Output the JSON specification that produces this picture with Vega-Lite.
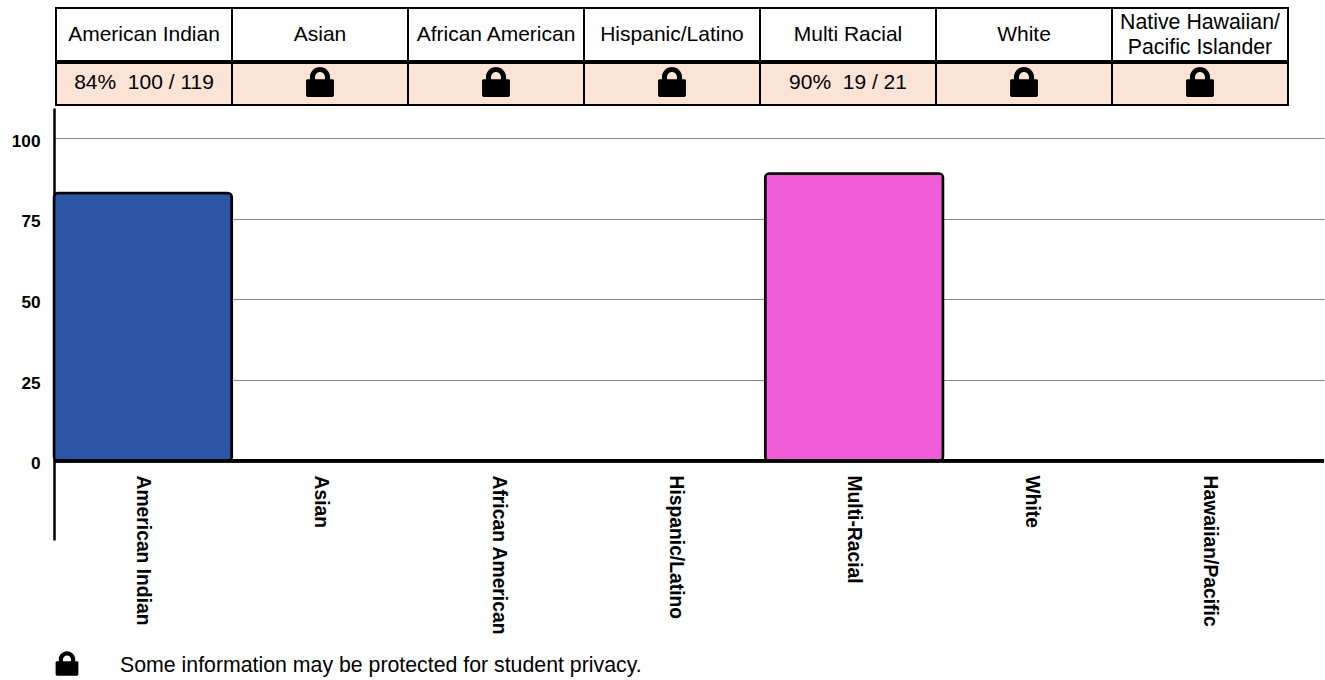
{
"$schema":"https://vega.github.io/schema/vega-lite/v6.json",
"background":"white",
"padding":{"left":11,"top":7,"right":0,"bottom":0},
"config":{"view":{"stroke":null},"font":"Liberation Sans"},
"datasets":{
"table":[
{"cat":"American Indian","header":"American Indian","value":"84%\u00a0 100 / 119","locked":false,"lines":1},
{"cat":"Asian","header":"Asian","value":"","locked":true,"lines":1},
{"cat":"African American","header":"African American","value":"","locked":true,"lines":1},
{"cat":"Hispanic/Latino","header":"Hispanic/Latino","value":"","locked":true,"lines":1},
{"cat":"Multi Racial","header":"Multi Racial","value":"90%\u00a0 19 / 21","locked":false,"lines":1},
{"cat":"White","header":"White","value":"","locked":true,"lines":1},
{"cat":"Native Hawaiian/Pacific Islander","header":"Native Hawaiian/\nPacific Islander","value":"","locked":true,"lines":2}
],
"bars":[
{"group":"American Indian","pct":83},
{"group":"Asian","pct":0},
{"group":"African American","pct":0},
{"group":"Hispanic/Latino","pct":0},
{"group":"Multi-Racial","pct":89},
{"group":"White","pct":0},
{"group":"Hawaiian/Pacific","pct":0}
]
},
"spacing":2,
"vconcat":[
{
"spacing":0,
"vconcat":[
{
"width":1270,"height":53,
"data":{"name":"table"},
"layer":[
{"mark":{"type":"rect","fill":"white","stroke":"black","strokeWidth":2},
"encoding":{"x":{"field":"cat","type":"nominal","sort":null,"axis":null,"scale":{"type":"band","paddingInner":0,"paddingOuter":0,"range":[2,1234]}}}},
{"transform":[{"filter":"datum.lines===1"}],
"mark":{"type":"text","fontSize":21,"color":"black"},
"encoding":{"x":{"field":"cat","type":"nominal","sort":null},"text":{"field":"header"}}},
{"transform":[{"filter":"datum.lines===2"}],
"mark":{"type":"text","fontSize":21.3,"lineBreak":"\n","lineHeight":25,"color":"black","yOffset":-12},
"encoding":{"x":{"field":"cat","type":"nominal","sort":null},"text":{"field":"header"}}}
]
},
{
"width":1270,"height":42,
"data":{"name":"table"},
"layer":[
{"mark":{"type":"rect","fill":"#FBE4D5","stroke":"black","strokeWidth":2},
"encoding":{"x":{"field":"cat","type":"nominal","sort":null,"axis":null,"scale":{"type":"band","paddingInner":0,"paddingOuter":0,"range":[2,1234]}}}},
{"mark":{"type":"text","fontSize":21,"color":"black","yOffset":-1},
"encoding":{"x":{"field":"cat","type":"nominal","sort":null},"text":{"field":"value"}}},
{"transform":[{"filter":"datum.locked"}],
"mark":{"type":"point","filled":true,"fill":"black","opacity":1,"size":900,"strokeWidth":0,"yOffset":-2,
"shape":"M-0.93,-0.1 Q-0.93,-0.18 -0.8,-0.18 L-0.67,-0.18 L-0.67,-0.33 A0.67,0.67 0 0 1 0.67,-0.33 L0.67,-0.18 L0.8,-0.18 Q0.93,-0.18 0.93,-0.1 L0.93,0.88 Q0.93,1 0.8,1 L-0.8,1 Q-0.93,1 -0.93,0.88 Z M-0.33,-0.18 L0.33,-0.18 L0.33,-0.33 A0.33,0.33 0 0 0 -0.33,-0.33 Z"},
"encoding":{"x":{"field":"cat","type":"nominal","sort":null}}}
]
}
]
},
{
"width":1270,"height":432,
"data":{"name":"bars"},
"layer":[
{"mark":{"type":"bar","cornerRadius":4,"stroke":"black","strokeWidth":2.5},
"encoding":{
"x":{"field":"group","type":"nominal","sort":null,"title":null,
"scale":{"type":"band","paddingInner":0,"paddingOuter":0.0714,"align":0},
"axis":{"domain":false,"ticks":false,"grid":false,"offset":-79,"labelAngle":90,"labelAlign":"left","labelBaseline":"middle","labelPadding":14,"labelFont":"Liberation Sans","labelFontWeight":"bold","labelFontSize":19.3,"labelColor":"black","labelOverlap":false,"labelLimit":0}},
"y":{"field":"pct","type":"quantitative","title":null,
"scale":{"domain":[-24.5,109.3],"nice":false,"zero":false},
"axis":{"values":[0,25,50,75,100],"domainColor":"black","domainWidth":2.5,"ticks":false,"grid":true,"gridColor":"#8a8a8a","gridWidth":1,"labelPadding":14,"labelOffset":3,"labelFont":"Liberation Sans","labelFontWeight":"bold","labelFontSize":17.2,"labelColor":"black"}},
"fill":{"field":"group","type":"nominal","legend":null,
"scale":{"domain":["American Indian","Asian","African American","Hispanic/Latino","Multi-Racial","White","Hawaiian/Pacific"],"range":["#2D55A5","#2D55A5","#2D55A5","#2D55A5","#F15CD9","#2D55A5","#2D55A5"]}}
}},
{"mark":{"type":"rule","color":"black","strokeWidth":2.8},
"encoding":{"y":{"datum":0}}}
]
},
{
"width":1270,"height":45,
"data":{"values":[{"item":"icon"},{"item":"note","note":"Some information may be protected for student privacy."}]},
"layer":[
{"transform":[{"filter":"datum.item==='note'"}],
"mark":{"type":"text","fontSize":21.3,"align":"left","color":"black","yOffset":6},
"encoding":{"x":{"field":"item","type":"nominal","axis":null,"scale":{"type":"point","domain":["icon","note"],"range":[13,66],"padding":0}},"text":{"field":"note"}}},
{"transform":[{"filter":"datum.item==='icon'"}],
"mark":{"type":"point","filled":true,"fill":"black","opacity":1,"size":600,"strokeWidth":0,"yOffset":4,
"shape":"M-0.93,-0.1 Q-0.93,-0.18 -0.8,-0.18 L-0.67,-0.18 L-0.67,-0.33 A0.67,0.67 0 0 1 0.67,-0.33 L0.67,-0.18 L0.8,-0.18 Q0.93,-0.18 0.93,-0.1 L0.93,0.88 Q0.93,1 0.8,1 L-0.8,1 Q-0.93,1 -0.93,0.88 Z M-0.33,-0.18 L0.33,-0.18 L0.33,-0.33 A0.33,0.33 0 0 0 -0.33,-0.33 Z"},
"encoding":{"x":{"field":"item","type":"nominal"}}}
]
}
]
}
